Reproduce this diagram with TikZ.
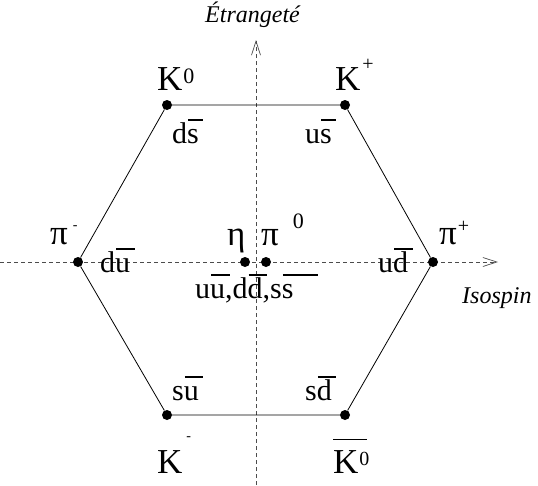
\documentclass[tikz,border=0pt]{standalone}
\usepackage{fontspec}
\setmainfont{Liberation Serif}
\usetikzlibrary{arrows.meta}
\newsavebox{\qbbox}
% quark with bar: #1 extra bar length
\newcommand{\qb}[2][0.12em]{\sbox{\qbbox}{#2}\rlap{\hspace{0.03em}\raisebox{0.74em}{\rule{\dimexpr\wd\qbbox+#1\relax}{0.045em}}}\usebox{\qbbox}}
\newcommand{\up}[4]{\hspace{#3pt}\raisebox{#1pt}{\fontsize{#2}{#2}\selectfont #4}}
\tikzset{
  dot/.style={circle,fill=black,inner sep=0pt,minimum size=10pt},
  axis/.style={dash pattern=on 4pt off 3pt,draw=black!70,line width=0.7pt},
  edge/.style={line width=0.8pt},
  big/.style={font=\fontsize{35}{36}\selectfont,inner sep=0pt,anchor=base west},
  quark/.style={font=\fontsize{30}{32}\selectfont,inner sep=0pt,anchor=base west},
  axlabel/.style={font=\fontsize{24}{26}\selectfont\itshape,inner sep=0pt,anchor=base west},
  tip/.style={-{Straight Barb[length=14pt,width=9pt,line width=0.7pt]}}
}
\begin{document}
\begin{tikzpicture}[x=1pt,y=-1pt]
\useasboundingbox (0,0) rectangle (538,485);
% axes
\coordinate (hL) at (0,262);
\coordinate (hR) at (498,262);
\coordinate (vB) at (256,485);
\coordinate (vT) at (256,40);
\draw[axis,tip] (hL) -- (hR);
\draw[axis,tip] (vB) -- (vT);
% vertices
\node[dot] (k0) at (167,105) {};
\node[dot] (kp) at (345,105) {};
\node[dot] (pim) at (78,262) {};
\node[dot] (pip) at (433,262) {};
\node[dot] (km) at (167,415) {};
\node[dot] (k0b) at (345,415) {};
\node[dot] (eta) at (245,262) {};
\node[dot] (pi0) at (266,262) {};
\draw[edge] (k0) -- (kp) -- (pip) -- (k0b) -- (km) -- (pim) -- (k0);
% labels
\node[big] (lk0) at (157,90) {K\up{7}{22}{1}{0}};
\node[big] (lkp) at (335,90) {K\up{20}{20}{2}{+}};
\node[big] (lpim) at (50,244) {π\up{15}{14}{5}{-}};
\node[big] (lpip) at (439,244) {π\up{12}{20}{1}{+}};
\node[big] (leta) at (227,245) {η};
\node[big] (lpi0) at (261,245) {π\up{17}{22}{14}{0}};
\node[big] (lkm) at (157,473) {K\up{33}{14}{4}{-}};
\node[big] (lk0b) at (333,473) {\rlap{\raisebox{33pt}{\rule{34pt}{1.3pt}}}K\up{8}{20}{1}{0}};
\node[quark] (qds) at (172,143) {d\qb{s}};
\node[quark] (qus) at (305,143) {u\qb{s}};
\node[quark] (qdu) at (100,272) {d\qb{u}};
\node[quark] (qud) at (378,272) {u\qb{d}};
\node[quark] (qmix) at (195,298) {u\qb{u},d\qb{d},s\qb[0.8em]{s}};
\node[quark] (qsu) at (172,400) {s\qb{u}};
\node[quark] (qsd) at (305,400) {s\qb{d}};
\node[axlabel] (lstr) at (205,22) {Étrangeté};
\node[axlabel] (liso) at (462,303) {Isospin};
\end{tikzpicture}
\end{document}
